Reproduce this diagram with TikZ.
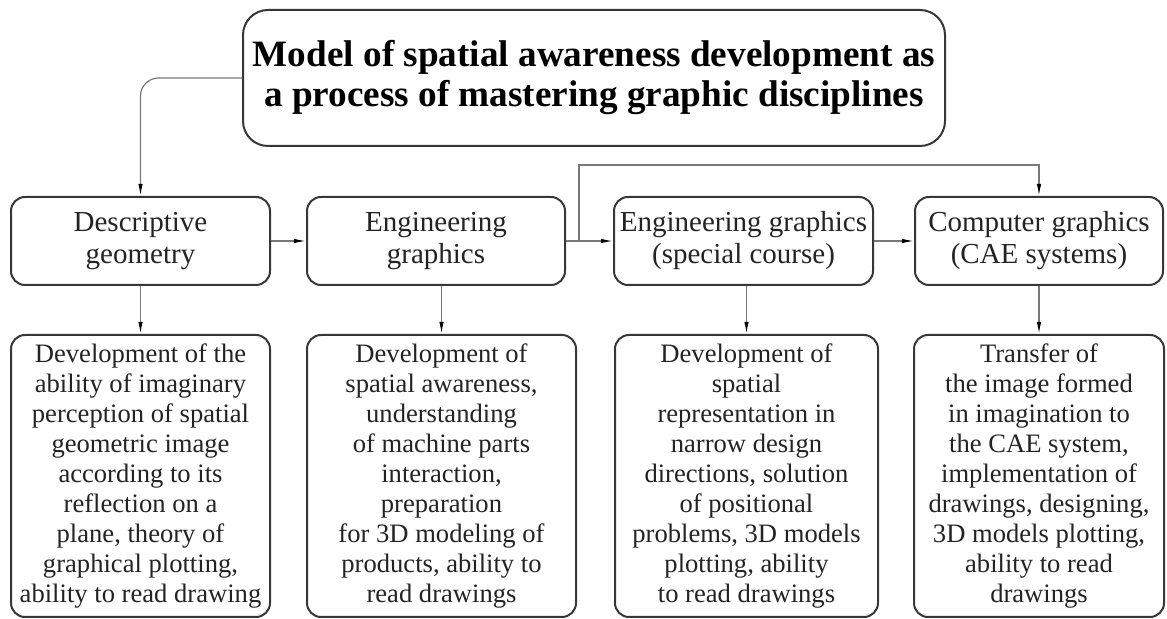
\documentclass[tikz,border=0pt]{standalone}
\usepackage{fontspec}
\setmainfont{Liberation Serif}
\usetikzlibrary{positioning,arrows.meta}
\definecolor{boxline}{RGB}{55,55,55}
\definecolor{linkgray}{RGB}{120,120,120}
\definecolor{inkgray}{RGB}{35,35,35}

\begin{document}
\begin{tikzpicture}[x=0.5pt, y=-0.5pt,
  block/.style={draw=boxline, line width=1pt, rounded corners=7pt, align=center,
                text=inkgray, inner sep=1pt},
  course/.style={block, minimum height=44pt, font=\fontsize{14.5}{16}\selectfont},
  result/.style={block, minimum height=141pt, font=\fontsize{13.3}{15}\selectfont},
  link/.style={draw=linkgray, line width=0.6pt,
               -{Latex[length=6pt,width=2.2pt,color=black]}}]
\useasboundingbox (0,0) rectangle (1167,619);

\node[block, rounded corners=12.5pt, minimum width=351pt, minimum height=68pt,
      font=\fontsize{18.6}{20}\selectfont\bfseries, text=black] (title) at (594,78)
  {Model of spatial awareness development as\\a process of mastering graphic disciplines};

\node[course, minimum width=129.5pt] (desc) at (140.5,241) {Descriptive\\geometry};
\node[course, minimum width=129pt]   (eng)  at (436,241)   {Engineering\\graphics};
\node[course, minimum width=129.5pt] (spec) at (743.5,241) {Engineering graphics\\(special course)};
\node[course, minimum width=124pt]   (comp) at (1039,241)  {Computer graphics\\(CAE systems)};

\node[result, minimum width=129.5pt] (descnote) at (140.5,476)
  {Development of the\\ability of imaginary\\perception of spatial\\geometric image\\according to its\\reflection on a\\plane, theory of\\graphical plotting,\\ability to read drawing};
\node[result, minimum width=134.5pt] (engnote) at (441.5,476)
  {Development of\\spatial awareness,\\understanding\\of machine parts\\interaction,\\preparation\\for 3D modeling of\\products, ability to\\read drawings};
\node[result, minimum width=131.5pt] (specnote) at (746.5,476)
  {Development of\\spatial\\representation in\\narrow design\\directions, solution\\of positional\\problems, 3D models\\plotting, ability\\to read drawings};
\node[result, minimum width=125pt] (compnote) at (1039,476)
  {Transfer of\\the image formed\\in imagination to\\the CAE system,\\implementation of\\drawings, designing,\\3D models plotting,\\ability to read\\drawings};

\coordinate (fork) at (579,241);
\coordinate (bend) at (1039,165);

\draw[link, rounded corners=9pt] (title.west) -| (desc.north);
\draw[link] (desc.east) -- (eng.west);
\draw[link] (eng.east) -- (spec.west);
\draw[link] (spec.east) -- (comp.west);
\draw[link] (fork) |- (bend) -- (comp.north);

\draw[link] (desc.south) -- (descnote.north);
\draw[link] (engnote.north |- eng.south) -- (engnote.north);
\draw[link] (specnote.north |- spec.south) -- (specnote.north);
\draw[link] (comp.south) -- (compnote.north);
\end{tikzpicture}
\end{document}
